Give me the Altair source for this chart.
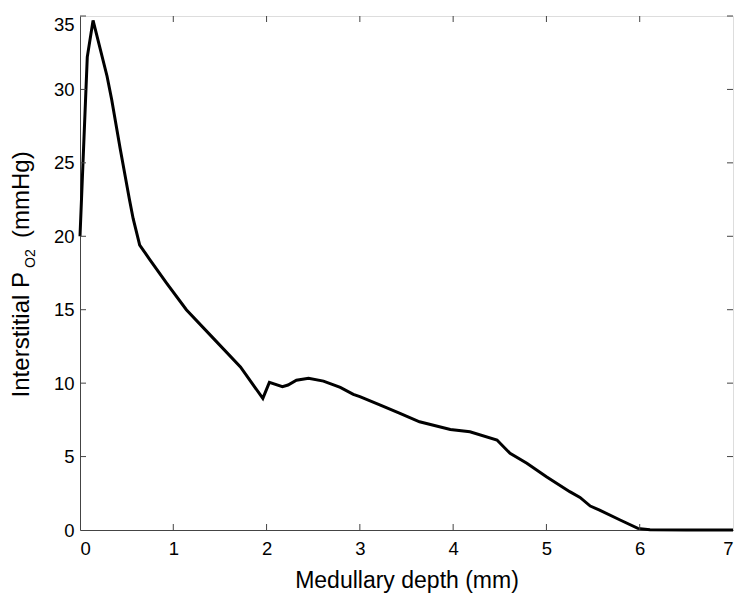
import altair as alt
import pandas as pd

depth = [0, 0.078, 0.14, 0.29, 0.34, 0.43, 0.53, 0.57, 0.64, 0.75, 0.93, 1.14, 1.43,
         1.72, 1.96, 2.03, 2.17, 2.23, 2.32, 2.45, 2.61, 2.79, 2.93, 3.0, 3.22, 3.43,
         3.64, 3.97, 4.18, 4.47, 4.61, 4.79, 5.0, 5.25, 5.36, 5.47, 5.57, 5.79, 5.98,
         6.11, 6.5, 7.0]
po2 = [20.0, 32.2, 34.7, 30.9, 29.3, 26.0, 22.5, 21.2, 19.4, 18.4, 16.8, 15.0, 13.05,
       11.1, 8.96, 10.05, 9.76, 9.87, 10.2, 10.33, 10.14, 9.71, 9.24, 9.08, 8.51, 7.94,
       7.37, 6.85, 6.69, 6.13, 5.22, 4.54, 3.63, 2.61, 2.22, 1.63, 1.36, 0.68, 0.11,
       0.02, 0.0, 0.0]

x_ticks = [0, 1, 2, 3, 4, 5, 6, 7]
y_ticks = [0, 5, 10, 15, 20, 25, 30, 35]

W, H = 653, 514
FONT = "Liberation Sans"
TL = 6

df = pd.DataFrame({"depth": depth, "po2": po2})
dfx = pd.DataFrame({"t": x_ticks[1:-1]})
dfy = pd.DataFrame({"t": y_ticks[1:]})

xs = alt.Scale(domain=[0, 7], nice=False, zero=False)
ys = alt.Scale(domain=[0, 35], nice=False, zero=False)

line = alt.Chart(df).mark_line(color="black", strokeWidth=3).encode(
    x=alt.X("depth:Q", scale=xs,
            axis=alt.Axis(values=x_ticks, ticks=False, grid=False, title="Medullary depth (mm)",
                          labelFontSize=18.5, labelPadding=9, labelColor="black",
                          titleFontSize=23, titleFontWeight="normal", titleColor="black",
                          titlePadding=12, domainColor="#444", labelFont=FONT, titleFont=FONT,
                          format="d")),
    y=alt.Y("po2:Q", scale=ys,
            axis=alt.Axis(values=y_ticks, ticks=False, grid=False, title=None,
                          labelFontSize=18.5, labelPadding=6, labelColor="black",
                          labelBaseline=alt.condition("datum.value == 35", alt.value("top"), alt.value("middle")),
                          labelOffset=alt.condition("datum.value == 35", alt.value(-1), alt.value(0)),
                          domainColor="#444", labelFont=FONT, format="d")),
)

bt = alt.Chart(dfx).mark_rule(color="#444", strokeWidth=1).encode(
    x=alt.X("t:Q", scale=xs), y=alt.value(H), y2=alt.value(H - TL))
tt = alt.Chart(dfx).mark_rule(color="#444", strokeWidth=1).encode(
    x=alt.X("t:Q", scale=xs), y=alt.value(0), y2=alt.value(TL))
lt = alt.Chart(dfy).mark_rule(color="#444", strokeWidth=1).encode(
    y=alt.Y("t:Q", scale=ys), x=alt.value(0), x2=alt.value(TL))
rt = alt.Chart(dfy).mark_rule(color="#444", strokeWidth=1).encode(
    y=alt.Y("t:Q", scale=ys), x=alt.value(W), x2=alt.value(W - TL))

title_df = pd.DataFrame({"a": ["Interstitial P"], "b": ["O2"], "c": ["(mmHg)"]})
t1 = alt.Chart(title_df).mark_text(angle=270, align="right", baseline="alphabetic",
                                   fontSize=24, font=FONT, color="black").encode(
    text="a:N", x=alt.value(-51.5), y=alt.value(256))
t2 = alt.Chart(title_df).mark_text(angle=270, align="left", baseline="alphabetic",
                                   fontSize=14, font=FONT, color="black").encode(
    text="b:N", x=alt.value(-45), y=alt.value(252))
t3 = alt.Chart(title_df).mark_text(angle=270, align="left", baseline="alphabetic",
                                   fontSize=24, font=FONT, color="black").encode(
    text="c:N", x=alt.value(-51.5), y=alt.value(222))

chart = alt.layer(line, bt, tt, lt, rt, t1, t2, t3).properties(
    width=W, height=H,
    autosize="none",
    padding={"left": 72, "top": 8, "right": 7, "bottom": 64},
).configure_view(stroke="#444", strokeWidth=1).configure(background="white")

chart.save("out.html", embed_options={"renderer": "svg", "actions": False})
